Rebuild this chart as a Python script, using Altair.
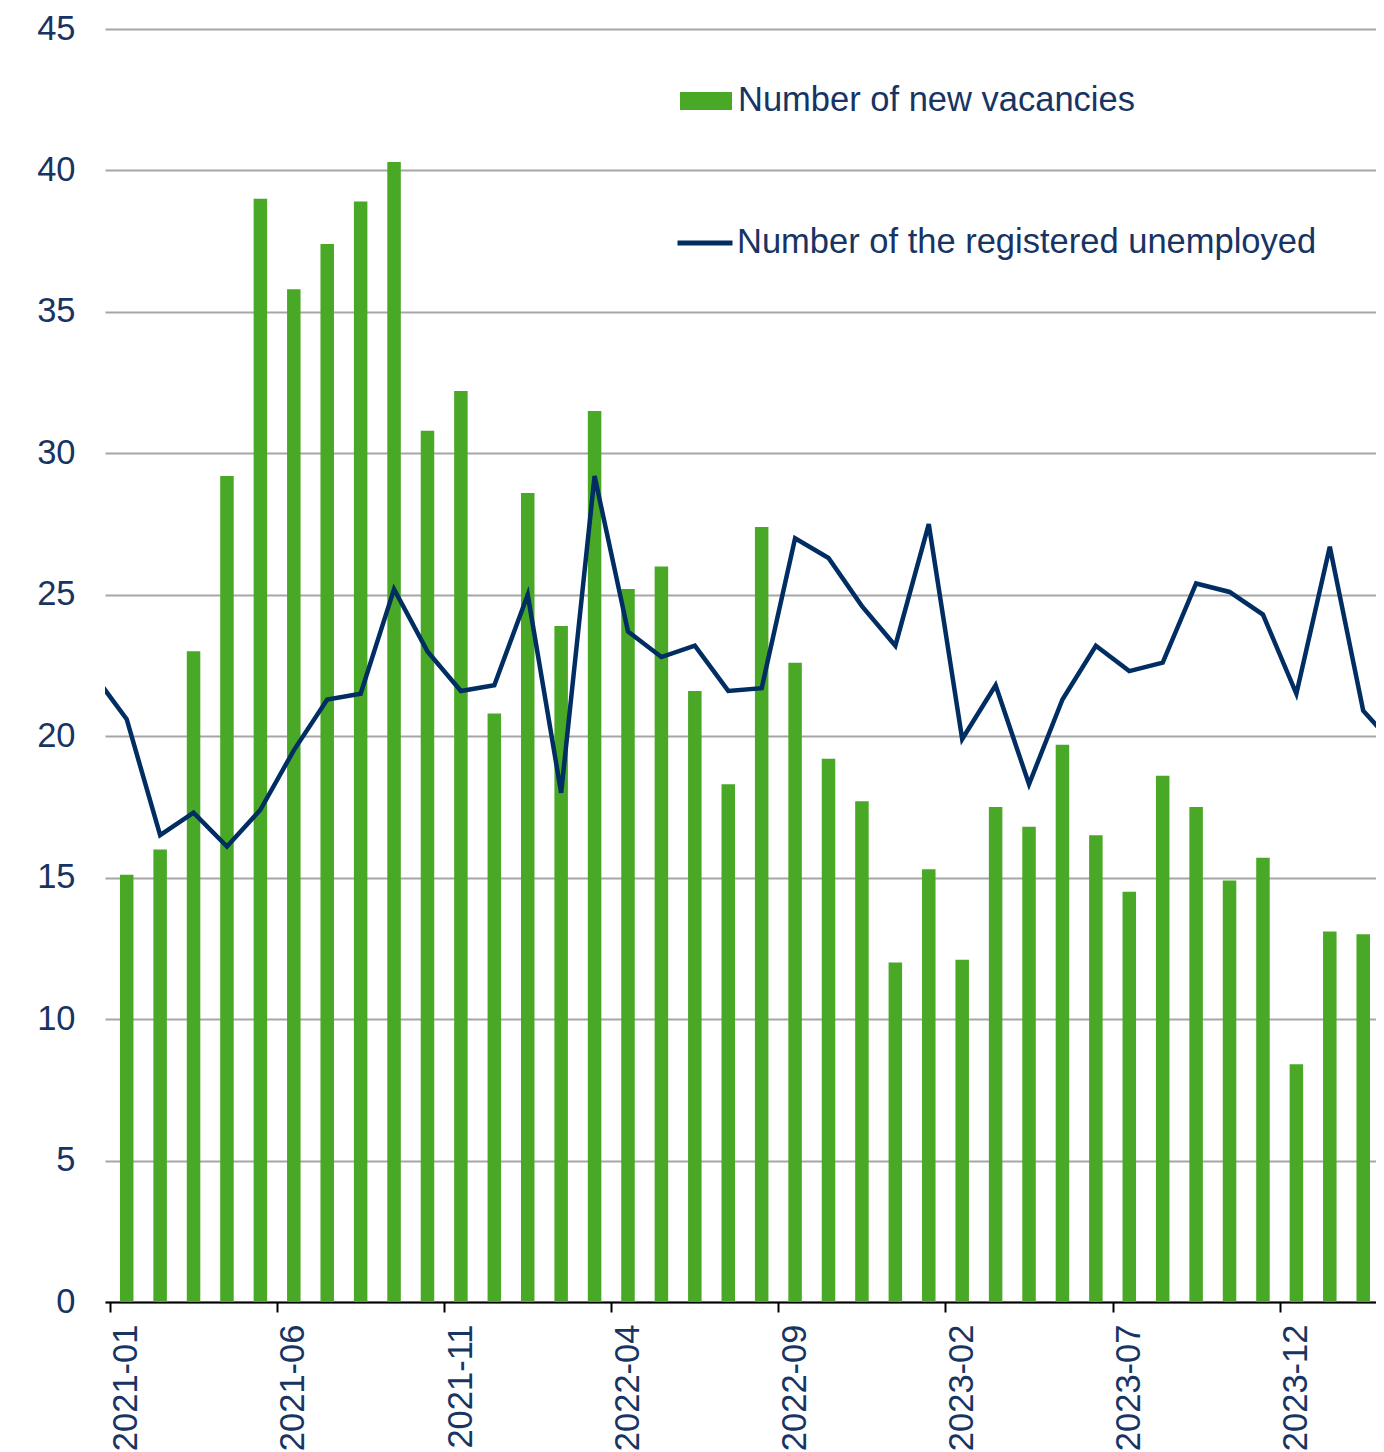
import altair as alt
import pandas as pd

# Monthly categories shown on the axis (bars)
months = ["2021-01","2021-02","2021-03","2021-04","2021-05","2021-06","2021-07","2021-08","2021-09","2021-10",
          "2021-11","2021-12","2022-01","2022-02","2022-03","2022-04","2022-05","2022-06","2022-07","2022-08",
          "2022-09","2022-10","2022-11","2022-12","2023-01","2023-02","2023-03","2023-04","2023-05","2023-06",
          "2023-07","2023-08","2023-09","2023-10","2023-11","2023-12","2024-01","2024-02"]

vacancies = [15.1, 16.0, 23.0, 29.2, 39.0, 35.8, 37.4, 38.9, 40.3, 30.8,
             32.2, 20.8, 28.6, 23.9, 31.5, 25.2, 26.0, 21.6, 18.3, 27.4,
             22.6, 19.2, 17.7, 12.0, 15.3, 12.1, 17.5, 16.8, 19.7, 16.5,
             14.5, 18.6, 17.5, 14.9, 15.7, 8.4, 13.1, 13.0]

# line continues one month beyond each edge (clipped by the plot area)
line_months = ["2020-12"] + months + ["2024-03"]
unemployed = [22.2, 20.6, 16.5, 17.3, 16.1, 17.4, 19.5, 21.3, 21.5, 25.2, 23.0,
              21.6, 21.8, 25.0, 18.0, 29.2, 23.7, 22.8, 23.2, 21.6, 21.7,
              27.0, 26.3, 24.6, 23.2, 27.5, 19.9, 21.8, 18.3, 21.3, 23.2,
              22.3, 22.6, 25.4, 25.1, 24.3, 21.5, 26.7, 20.9, 19.6]

tick_labels = ["2021-01", "2021-06", "2021-11", "2022-04", "2022-09", "2023-02", "2023-07", "2023-12"]

bar_name = "Number of new vacancies"
line_name = "Number of the registered unemployed"

GREEN = "#49a825"
NAVY_LINE = "#002d62"
NAVY_TEXT = "#173463"
FONT = "Liberation Sans"
FS = 34.5

bars_df = pd.DataFrame({
    "month": months,
    "pos": [i + 0.5 for i in range(len(months))],
    "value": vacancies,
    "series": bar_name,
})
line_df = pd.DataFrame({
    "month": line_months,
    "pos": [i - 0.5 for i in range(len(line_months))],
    "value": unemployed,
    "series": line_name,
})

N = len(months)
band = 1280 / N          # pixels per month
W = 1271                 # plot area is cut at the right edge of the picture
DOMAIN_MAX = W / band

xscale = alt.Scale(domain=[0, DOMAIN_MAX], nice=False, zero=False)
yscale = alt.Scale(domain=[0, 45], nice=False)

label_expr = f"{tick_labels}[round(datum.value / 5)]"

x_axis = alt.Axis(
    values=[5 * i for i in range(len(tick_labels))],
    labelExpr=label_expr,
    labelAngle=270,
    labelAlign="right",
    labelBaseline="middle",
    labelOffset=band / 2,
    labelPadding=12,
    labelFontSize=FS,
    labelFont=FONT,
    labelColor=NAVY_TEXT,
    tickSize=10,
    tickColor="#000000",
    tickWidth=2,
    domainColor="#000000",
    domainWidth=2,
    grid=False,
    title=None,
    labelOverlap=False,
    labelFlush=False,
)

y_axis = alt.Axis(
    values=[0, 5, 10, 15, 20, 25, 30, 35, 40, 45],
    labelFontSize=FS,
    labelFont=FONT,
    labelColor=NAVY_TEXT,
    labelPadding=30,
    ticks=False,
    domain=False,
    grid=True,
    gridColor="#a6a6a6",
    gridWidth=2,
    title=None,
)

bars = alt.Chart(bars_df).mark_bar(width=13.5, clip=True).encode(
    x=alt.X("pos:Q", scale=xscale, axis=x_axis),
    y=alt.Y("value:Q", scale=yscale, axis=y_axis),
    fill=alt.Fill(
        "series:N",
        scale=alt.Scale(domain=[bar_name], range=[GREEN]),
        legend=alt.Legend(
            title=None,
            orient="none",
            legendX=575,
            legendY=46,
            padding=0,
            symbolType="M-1,-0.346L1,-0.346L1,0.346L-1,0.346Z",
            symbolSize=2704,
            symbolStrokeWidth=0,
            labelFontSize=FS,
            labelFont=FONT,
            labelColor=NAVY_TEXT,
            labelOffset=6,
            labelLimit=800,
        ),
    ),
)

line = alt.Chart(line_df).mark_line(strokeWidth=4.5, clip=True, strokeJoin="miter").encode(
    x=alt.X("pos:Q", scale=xscale, axis=x_axis),
    y=alt.Y("value:Q", scale=yscale, axis=y_axis),
    stroke=alt.Stroke(
        "series:N",
        scale=alt.Scale(domain=[line_name], range=[NAVY_LINE]),
        legend=alt.Legend(
            title=None,
            orient="none",
            legendX=570,
            legendY=184,
            padding=0,
            symbolType="stroke",
            symbolSize=3025,
            symbolStrokeWidth=5,
            labelFontSize=FS,
            labelFont=FONT,
            labelColor=NAVY_TEXT,
            labelOffset=2,
            labelLimit=800,
        ),
    ),
)

chart = alt.layer(bars, line).properties(
    width=W,
    height=1273,
    autosize=alt.AutoSizeParams(type="none"),
    padding={"left": 97, "top": 21, "right": 0, "bottom": 150},
).configure_view(stroke=None)

chart.save("out.html", embed_options={"renderer": "svg", "actions": False})
